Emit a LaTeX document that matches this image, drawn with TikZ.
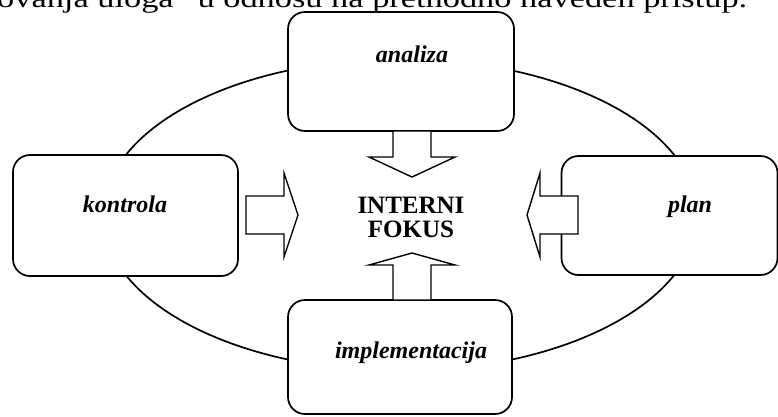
\documentclass[tikz,border=0pt]{standalone}
\usepackage{fontspec}
\setmainfont{Liberation Serif}
\begin{document}
\begin{tikzpicture}[x=1pt,y=-1pt,
  stage/.style={draw, line width=1.7pt, fill=white, rounded corners=17pt, inner sep=0pt},
  stagetext/.style={font=\fontsize{24}{24}\selectfont\bfseries\itshape, anchor=base, inner sep=0pt},
  focustext/.style={font=\fontsize{25}{24}\selectfont\bfseries, align=center, inner sep=0pt},
  arrowline/.style={draw, line width=1.4pt, fill=white, line join=miter},
  pics/blockarrow/.style n args={3}{code={
    \path[arrowline] (0,-19) -- (#1,-19) -- (#1,-#3) -- ({#1+#2},0) -- (#1,#3) -- (#1,19) -- (0,19) -- cycle;
  }}]
\clip (0,0) rectangle (778,416);

% running text of the page above the figure
\node[anchor=base west, inner sep=0pt, font=\fontsize{27}{27}\selectfont]
  (runtext) at (-3,7) {\resizebox{750pt}{\height}{ovanja uloga” u odnosu na prethodno naveden pristup.}};

% cycle connecting the four stages
\draw[line width=1.7pt] (400,215) ellipse [x radius=297, y radius=156];

% the four stages
\node[stage, minimum width=226pt, minimum height=119pt] (analiza) at (401,71.5) {};
\node[stage, minimum width=225pt, minimum height=121pt] (kontrola) at (125.5,215.5) {};
\node[stage, minimum width=216pt, minimum height=119pt] (plan) at (669.5,215.5) {};
\node[stage, minimum width=224pt, minimum height=114pt] (impl) at (400,357) {};

% block arrows pointing at the internal focus
\pic[rotate=-90] at (412,131) {blockarrow={26}{20}{43}};
\pic[rotate=90] at (412,300) {blockarrow={35}{12}{43}};
\pic at (246,215) {blockarrow={38}{14}{42}};
\pic[rotate=180] at (578,215) {blockarrow={38}{13}{42}};

% labels
\node[stagetext] (tanaliza) at (412,62) {analiza};
\node[stagetext] (tkontrola) at (125,212) {kontrola};
\node[stagetext] (tplan) at (690,212) {plan};
\node[stagetext] (timpl) at (411,358) {implementacija};
\node[focustext] (focus) at (411,217) {INTERNI\\FOKUS};
\end{tikzpicture}
\end{document}
